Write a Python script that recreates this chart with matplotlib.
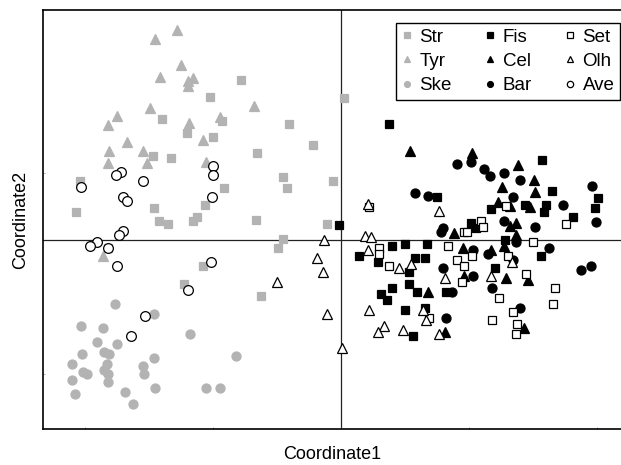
#!/usr/bin/env python
import numpy as np
import matplotlib
matplotlib.use('Agg')
import matplotlib.pyplot as plt

plt.rcParams['font.family'] = ['Liberation Sans', 'DejaVu Sans']

# Ordination scores (Coordinate1, Coordinate2).
str_x = [-0.156, -0.205, -0.280, -0.186, -0.081, -0.241, -0.200, -0.044, -0.131,
         -0.294, -0.266, -0.091, -0.084, -0.013, -0.408, -0.183, -0.414, -0.292,
         -0.213, -0.284, -0.270, -0.231, -0.225, -0.133, -0.022, 0.005, -0.091,
         -0.098, -0.364, -0.216, -0.245, -0.125]
str_y = [0.240, 0.215, 0.182, 0.179, 0.174, 0.161, 0.155, 0.143, 0.131,
         0.126, 0.123, 0.095, 0.078, 0.089, 0.089, 0.078, 0.042, 0.048,
         0.053, 0.029, 0.024, 0.029, 0.035, 0.030, 0.024, 0.213, 0.002,
         -0.012, -0.011, -0.038, -0.066, -0.084]

tyr_x = [-0.256, -0.291, -0.250, -0.283, -0.239, -0.231, -0.239, -0.298, -0.136,
         -0.350, -0.364, -0.238, -0.189, -0.334, -0.216, -0.363, -0.309, -0.364,
         -0.303, -0.211, -0.372]
tyr_y = [0.315, 0.302, 0.263, 0.245, 0.239, 0.243, 0.231, 0.198, 0.201,
         0.186, 0.173, 0.176, 0.185, 0.147, 0.150, 0.134, 0.134, 0.116,
         0.116, 0.117, -0.024]

ske_x = [-0.353, -0.292, -0.406, -0.372, -0.236, -0.381, -0.350, -0.405, -0.370,
         -0.363, -0.292, -0.164, -0.420, -0.366, -0.309, -0.403, -0.398, -0.370,
         -0.364, -0.308, -0.420, -0.364, -0.211, -0.189, -0.291, -0.416, -0.338,
         -0.325]
ske_y = [-0.096, -0.110, -0.129, -0.132, -0.141, -0.152, -0.156, -0.171, -0.168,
         -0.171, -0.176, -0.174, -0.185, -0.185, -0.188, -0.197, -0.200, -0.194,
         -0.201, -0.201, -0.210, -0.213, -0.221, -0.222, -0.222, -0.230, -0.228,
         -0.245]

fis_x = [0.075, 0.150, -0.003, 0.080, 0.100, 0.134, 0.028, 0.058, 0.116, 0.131,
         0.106, 0.080, 0.106, 0.119, 0.063, 0.072, 0.164, 0.100, 0.131, 0.113,
         0.314, 0.330, 0.402, 0.234, 0.288, 0.320, 0.317, 0.397, 0.363, 0.203,
         0.211, 0.256, 0.313, 0.241]
fis_y = [0.174, 0.065, 0.023, -0.008, -0.005, -0.006, -0.024, -0.032, -0.026, -0.026,
         -0.047, -0.072, -0.065, -0.078, -0.080, -0.089, -0.078, -0.105, -0.101, -0.143,
         0.120, 0.074, 0.063, 0.047, 0.053, 0.053, 0.042, 0.048, 0.035, 0.026,
         0.018, 0.000, -0.024, -0.042]

cel_x = [0.108, 0.177, 0.136, 0.163, 0.205, 0.277, 0.302, 0.252, 0.303, 0.245,
         0.264, 0.295, 0.264, 0.273, 0.273, 0.255, 0.191, 0.234, 0.258, 0.192,
         0.292, 0.286]
cel_y = [0.134, 0.011, -0.077, -0.138, 0.131, 0.113, 0.090, 0.080, 0.072, 0.057,
         0.051, 0.050, 0.021, 0.026, 0.008, -0.008, -0.011, -0.014, -0.056, -0.054,
         -0.059, -0.131]

bar_x = [0.181, 0.116, 0.136, 0.159, 0.156, 0.159, 0.173, 0.164, 0.203, 0.223,
         0.233, 0.255, 0.280, 0.392, 0.269, 0.347, 0.255, 0.303, 0.398, 0.273,
         0.206, 0.230, 0.325, 0.269, 0.206, 0.236, 0.375, 0.391, 0.280]
bar_y = [0.114, 0.071, 0.066, 0.018, 0.012, -0.041, -0.078, -0.117, 0.117, 0.107,
         0.096, 0.101, 0.090, 0.081, 0.065, 0.053, 0.029, 0.020, 0.027, -0.002,
         -0.015, -0.020, -0.012, -0.029, -0.053, -0.071, -0.044, -0.039, -0.102]

set_x = [0.044, 0.059, 0.059, 0.167, 0.075, 0.138, 0.258, 0.219, 0.222, 0.192,
         0.197, 0.300, 0.352, 0.205, 0.181, 0.261, 0.192, 0.189, 0.289, 0.334,
         0.247, 0.331, 0.269, 0.236, 0.275, 0.273]
set_y = [0.050, -0.011, -0.020, -0.009, -0.039, -0.117, 0.051, 0.029, 0.020, 0.012,
         0.012, -0.003, 0.024, -0.023, -0.030, -0.024, -0.038, -0.063, -0.051, -0.071,
         -0.086, -0.096, -0.107, -0.120, -0.126, -0.140]

olh_x = [-0.027, -0.038, -0.028, -0.100, -0.022, 0.002, 0.042, 0.038, 0.047, 0.042,
         0.091, 0.109, 0.153, 0.163, 0.044, 0.128, 0.133, 0.067, 0.058, 0.097,
         0.153, 0.267, 0.234]
olh_y = [0.000, -0.026, -0.047, -0.062, -0.111, -0.162, 0.054, 0.006, 0.005, -0.015,
         -0.041, -0.035, 0.044, -0.056, -0.105, -0.105, -0.120, -0.129, -0.137, -0.134,
         -0.141, -0.033, -0.053]

ave_x = [-0.200, -0.344, -0.352, -0.200, -0.309, -0.406, -0.341, -0.334, -0.202,
         -0.341, -0.347, -0.381, -0.392, -0.364, -0.350, -0.203, -0.239, -0.306,
         -0.328]
ave_y = [0.111, 0.102, 0.098, 0.098, 0.089, 0.080, 0.065, 0.059, 0.065,
         0.014, 0.008, -0.002, -0.009, -0.011, -0.039, -0.032, -0.074, -0.113,
         -0.144]

grey = '#b3b3b3'
groups = [
    ('Str', str_x, str_y, 's', grey, grey, 5.8),
    ('Tyr', tyr_x, tyr_y, '^', grey, grey, 6.8),
    ('Ske', ske_x, ske_y, 'o', grey, grey, 6.5),
    ('Fis', fis_x, fis_y, 's', 'black', 'black', 5.8),
    ('Cel', cel_x, cel_y, '^', 'black', 'black', 6.8),
    ('Bar', bar_x, bar_y, 'o', 'black', 'black', 6.5),
    ('Set', set_x, set_y, 's', 'white', 'black', 6.3),
    ('Olh', olh_x, olh_y, '^', 'white', 'black', 7.2),
    ('Ave', ave_x, ave_y, 'o', 'white', 'black', 7.0),
]

fig = plt.figure(figsize=(6.21, 4.65), dpi=100)
ax = fig.add_axes([43 / 621, 36 / 465, 579 / 621, 419 / 465])

ax.axhline(0, color='#222222', lw=0.9, zorder=1)
ax.axvline(0, color='#222222', lw=0.9, zorder=1)

for name, xs, ys, mk, fc, ec, ms in groups:
    ax.plot(xs, ys, linestyle='none', marker=mk, markersize=ms,
            markerfacecolor=fc, markeredgecolor=ec, markeredgewidth=0.9,
            label=name, zorder=3)

ax.set_xlim(-0.466, 0.439)
ax.set_ylim(-0.283, 0.345)
ax.set_xticks([-0.4, -0.2, 0.0, 0.2, 0.4])
ax.set_yticks([-0.2, 0.1])
ax.tick_params(direction='in', length=1.5, width=0.5, colors='#888888',
               labelbottom=False, labelleft=False)
for sp in ax.spines.values():
    sp.set_linewidth(1.2)
    sp.set_color('black')

ax.set_xlabel('Coordinate1', fontsize=13, labelpad=12)
ax.set_ylabel('Coordinate2', fontsize=13, labelpad=10)

leg = ax.legend(ncol=3, loc='upper right', bbox_to_anchor=(0.9965, 0.969),
                borderaxespad=0, fontsize=13.5, markerscale=0.65,
                handlelength=0.6, handletextpad=0.37, columnspacing=1.73,
                labelspacing=0.38, borderpad=0.3, fancybox=False,
                edgecolor='black', framealpha=1)
leg.get_frame().set_linewidth(1.0)

plt.savefig('out.png', dpi=100)
